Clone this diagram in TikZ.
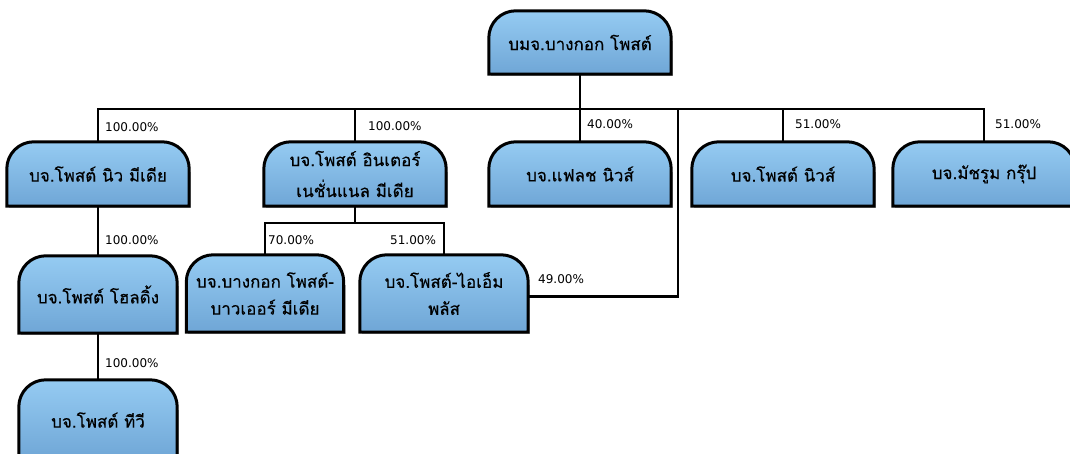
\documentclass[tikz,border=0pt]{standalone}
\usepackage{fontspec}
\setmainfont{DejaVu Sans}
\newfontfamily\thaifont[Script=Thai,FakeBold=0.4]{Loma}
\usetikzlibrary{positioning,calc}
\definecolor{boxtop}{HTML}{95CBF2}
\definecolor{boxbot}{HTML}{6FA6D6}
\pgfdeclarelayer{background}
\pgfsetlayers{background,main}
\tikzset{
  unit/.style={minimum width=#1, inner sep=0pt, align=center,
    font=\thaifont\fontsize{17}{27}\selectfont},
  link/.style={line width=2.2pt},
  pct/.style={anchor=west, inner sep=0pt, font=\fontsize{12}{13}\selectfont},
}
% tab shaped box: round top, square bottom
\newcommand{\tabshape}[1]{%
  \fill[black!30] ([xshift=2pt,yshift=-2pt]#1.south west) rectangle ([xshift=2pt,yshift=-30pt]#1.north east);
  \shade[top color=boxtop, bottom color=boxbot, draw=black, line width=3pt]
    (#1.south west) -- ([yshift=-27pt]#1.north west)
    arc[start angle=180, end angle=90, radius=27pt]
    -- ([xshift=-27pt]#1.north east)
    arc[start angle=90, end angle=0, radius=27pt]
    -- (#1.south east) -- cycle;
}
\begin{document}
\begin{tikzpicture}[x=1pt, y=-1pt]
  \useasboundingbox (0,0) rectangle (1070,454);

  \node[unit=182pt, minimum height=63pt] (P0) at (580,42.5) {บมจ.บางกอก โพสต์};

  %level 1
  \foreach \name/\x/\txt in {L1/98/{บจ.โพสต์ นิว มีเดีย}, L2/355/{บจ.โพสต์ อินเตอร์\\[4pt]เนชั่นแนล มีเดีย},
      L3/580/{บจ.แฟลช นิวส์}, L4/783/{บจ.โพสต์ นิวส์}, L5/984/{บจ.มัชรูม กรุ๊ป}} {
    \node[unit=182pt, minimum height=64pt] (\name) at (\x,174) {\txt};
  }

  %level 2
  \node[unit=157pt, minimum height=77pt] (M1) at (265,293.5) {บจ.บางกอก โพสต์-\\บาวเออร์ มีเดีย};
  \node[unit=168pt, minimum height=77pt] (M2) at (444,293.5) {บจ.โพสต์-ไอเอ็ม\\พลัส};
  \node[unit=158pt, minimum height=77pt] (K1) at (98,294.5) {บจ.โพสต์ โฮลดิ้ง};
  \node[unit=158pt, minimum height=80pt] (K2) at (98,420) {บจ.โพสต์ ทีวี};

  \begin{pgfonlayer}{background}
    \foreach \n in {P0,L1,L2,L3,L4,L5,M1,M2,K1,K2} {\tabshape{\n}}
  \end{pgfonlayer}

  %lines
  \coordinate (bus) at (580,109);
  \coordinate (bus2) at (355,223);
  \coordinate (j49) at (678,109);
  \draw[link] (P0.south) -- (P0.south |- bus);
  \draw[link] (L1.north) -- (L1.north |- bus) -- (L5.north |- bus) -- (L5.north);
  \foreach \n in {L2,L3,L4} {\draw[link] (\n.north) -- (\n.north |- bus);}
  \draw[link] (L2.south) -- (L2.south |- bus2);
  \draw[link] (M1.north) -- (M1.north |- bus2) -- (M2.north |- bus2) -- (M2.north);
  \draw[link] ([yshift=-3pt]M2.east) -| (j49);
  \draw[link] (L1.south) -- (K1.north);
  \draw[link] (K1.south) -- (K2.north);

  %shares
  \node[pct] (s1) at (105,127) {100.00\%};
  \node[pct] (s2) at (368,126) {100.00\%};
  \node[pct] (s3) at (587,124) {40.00\%};
  \node[pct] (s4) at (795,124) {51.00\%};
  \node[pct] (s5) at (995,124) {51.00\%};
  \node[pct] (s6) at (105,240) {100.00\%};
  \node[pct] (s7) at (268,240) {70.00\%};
  \node[pct] (s8) at (390,240) {51.00\%};
  \node[pct] (s9) at (538,279) {49.00\%};
  \node[pct] (s10) at (105,363) {100.00\%};
\end{tikzpicture}
\end{document}
